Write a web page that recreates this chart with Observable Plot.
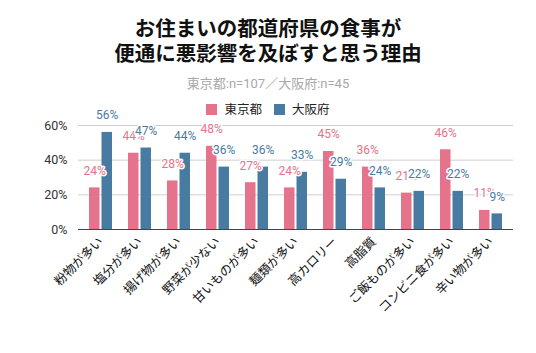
<!DOCTYPE html>
<html><head><meta charset="utf-8">
<script src="https://cdn.jsdelivr.net/npm/d3@7"></script>
<script src="https://cdn.jsdelivr.net/npm/@observablehq/plot@0.6"></script>
<style>
body{margin:0;background:#fff;font-family:Roboto,"Noto Sans CJK JP",sans-serif;}
#wrap{position:relative;width:536px;height:353px;overflow:hidden;}
#title{position:absolute;top:15px;left:0;width:536px;text-align:center;font-family:"Noto Sans CJK JP",sans-serif;font-size:20.5px;font-weight:bold;line-height:25px;color:#111;}
#sub{position:absolute;top:73px;left:0;width:536px;text-align:center;font-size:13px;color:#a8a8a8;}
#legend{position:absolute;top:99px;left:0;width:536px;text-align:center;font-size:12.5px;color:#222;z-index:2;}
#legend span.sw{display:inline-block;width:11px;height:11px;vertical-align:-1px;margin-right:7px;}
#legend span.it{margin:0 6px;}
#chart{position:absolute;top:100px;left:0;}
</style></head>
<body><div id="wrap">
<div id="title">お住まいの都道府県の食事が<br>便通に悪影響を及ぼすと思う理由</div>
<div id="sub">東京都:n=107／大阪府:n=45</div>
<div id="legend"></div>
<div id="chart"></div>
</div>
<script>
const categories = ["粉物が多い","塩分が多い","揚げ物が多い","野菜が少ない","甘いものが多い","麺類が多い","高カロリー","高脂質","ご飯ものが多い","コンビニ食が多い","辛い物が多い"];
const tokyo = [24,44,28,48,27,24,45,36,21,46,11];
const osaka = [56,47,44,36,36,33,29,24,22,22,9];
const seriesNames = ["東京都","大阪府"];
const seriesColors = ["#e5738b","#487ba1"];
const yTicks = [0,20,40,60];

const tokyoData = categories.map((c,i)=>({cat:c, s:seriesNames[0], v:tokyo[i]}));
const osakaData = categories.map((c,i)=>({cat:c, s:seriesNames[1], v:osaka[i]}));

document.getElementById("legend").innerHTML = seriesNames.map((n,i)=>
  `<span class="it"><span class="sw" style="background:${seriesColors[i]}"></span>${n}</span>`).join("");

const half = 12.5, off = 6.25;
const labelOpts = {fontSize: 12, stroke: "white", strokeWidth: 3, paintOrder: "stroke", dy: -17};

const chart = Plot.plot({
  width: 536,
  height: 253,
  marginLeft: 78,
  marginRight: 23,
  marginTop: 25,
  marginBottom: 124,
  style: {fontFamily: 'Roboto,"Noto Sans CJK JP",sans-serif', background: "transparent"},
  x: {domain: categories, paddingInner: 0.42, paddingOuter: 0.21, label: null},
  y: {domain: [0, 60], label: null},
  color: {domain: seriesNames, range: seriesColors},
  marks: [
    Plot.ruleY(yTicks, {y: d => d, stroke: "#cfcfcf", strokeWidth: 1}),
    Plot.barY(tokyoData, {x: "cat", y: "v", fill: "s", insetRight: half}),
    Plot.barY(osakaData, {x: "cat", y: "v", fill: "s", insetLeft: half}),
    Plot.ruleY([0], {stroke: "#444", strokeWidth: 1.2}),
    Plot.text(tokyoData, {x: "cat", y: "v", text: d => d.v + "%", fill: "s", dx: -off, ...labelOpts}),
    Plot.text(osakaData, {x: "cat", y: "v", text: d => d.v + "%", fill: "s", dx: off, ...labelOpts}),
    Plot.axisY({ticks: yTicks, tickFormat: d => d + "%", tickSize: 0, tickPadding: 11, fontSize: 12.5, fill: "#333", label: null}),
    Plot.axisX({tickRotate: -45, tickSize: 0, tickPadding: 10, fontSize: 12.5, fill: "#111", label: null})
  ]
});
document.getElementById("chart").appendChild(chart);
</script>
</body></html>
